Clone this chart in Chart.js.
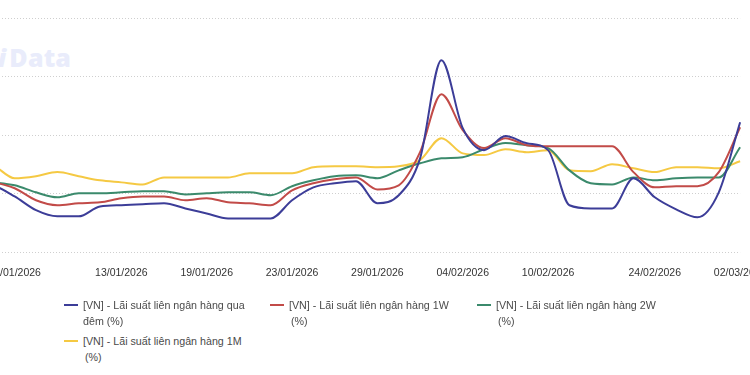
<!DOCTYPE html>
<html>
<head>
<meta charset="utf-8">
<script src="https://cdn.jsdelivr.net/npm/chart.js@4.4.1/dist/chart.umd.min.js"></script>
<style>
  html, body { margin:0; padding:0; width:750px; height:375px; overflow:hidden; background:#fff; font-family:"Liberation Sans", Arial, Helvetica, sans-serif; }
  #wrap { position:absolute; left:-42.4px; top:0; width:822.4px; height:304px; }
  #wm { position:absolute; left:-2px; top:40px; font-family:"Open Sans", "Noto Sans", sans-serif; font-weight:800; font-size:25px; color:#e9ecfb; letter-spacing:0.2px; }
  #wm i { font-style:italic; margin-right:3px; }
  #legend { position:absolute; left:0; top:297px; width:750px; font-size:10.7px; color:#4a4a4a; }
  .item { position:absolute; display:flex; align-items:flex-start; }
  .mark { width:14px; height:2px; margin-top:7px; margin-right:5px; flex:none; }
  .txt { line-height:16px; white-space:nowrap; }
  .txt span { display:block; }
  .txt span.ind { padding-left:2px; }
</style>
</head>
<body>
<div id="wm"><i>i</i>Data</div>
<div id="wrap"><canvas id="c"></canvas></div>
<div id="legend"></div>
<script>
const dates = ["02/01/2026","05/01/2026","06/01/2026","07/01/2026","08/01/2026","09/01/2026","12/01/2026","13/01/2026","14/01/2026","15/01/2026","16/01/2026","19/01/2026","20/01/2026","21/01/2026","22/01/2026","23/01/2026","26/01/2026","27/01/2026","28/01/2026","29/01/2026","30/01/2026","02/02/2026","03/02/2026","04/02/2026","05/02/2026","06/02/2026","09/02/2026","10/02/2026","11/02/2026","12/02/2026","13/02/2026","23/02/2026","24/02/2026","25/02/2026","26/02/2026","27/02/2026","02/03/2026"];
const shownTicks = ["06/01/2026","13/01/2026","19/01/2026","23/01/2026","29/01/2026","04/02/2026","10/02/2026","24/02/2026","02/03/2026"];
const seriesNames = ["[VN] - Lãi suất liên ngân hàng qua đêm (%)","[VN] - Lãi suất liên ngân hàng 1W (%)","[VN] - Lãi suất liên ngân hàng 2W (%)","[VN] - Lãi suất liên ngân hàng 1M (%)"];
const overnight = [4.43,4.29,3.91,3.44,3.23,3.23,3.57,3.61,3.64,3.68,3.50,3.33,3.16,3.16,3.16,3.78,4.22,4.36,4.43,3.68,3.95,5.21,8.56,6.24,5.49,5.97,5.73,5.49,3.61,3.50,3.50,4.53,3.88,3.47,3.20,4.05,6.44];
const week1 = [4.46,4.39,4.19,3.78,3.61,3.68,3.71,3.85,3.91,3.91,3.78,3.85,3.71,3.68,3.61,4.12,4.36,4.50,4.56,4.15,4.29,5.42,7.40,6.17,5.56,5.90,5.66,5.62,5.62,5.62,5.62,4.74,4.22,4.26,4.26,4.74,6.27];
const week2 = [4.46,4.39,4.29,4.05,3.88,4.02,4.02,4.05,4.09,4.09,3.98,4.02,4.05,4.05,3.95,4.26,4.46,4.60,4.63,4.53,4.80,5.04,5.21,5.25,5.52,5.73,5.66,5.56,4.80,4.36,4.32,4.56,4.46,4.53,4.56,4.56,5.59];
const month1 = [5.15,4.97,4.53,4.60,4.74,4.60,4.46,4.39,4.32,4.56,4.56,4.56,4.56,4.70,4.70,4.70,4.91,4.94,4.94,4.91,4.94,5.15,5.90,5.38,5.32,5.52,5.42,5.49,4.80,4.77,5.01,4.87,4.74,4.91,4.91,4.87,5.11];
const colors = ["#3c3d98","#c24b48","#3b8a6c","#f5c943"];
const yTicks = [2,4,6,8,10];

const seriesData = [overnight, week1, week2, month1];
const datasets = seriesData.map((d,i)=>({
  label: seriesNames[i],
  data: d,
  borderColor: colors[i],
  backgroundColor: colors[i],
  borderWidth: 2,
  pointRadius: 0,
  cubicInterpolationMode: 'monotone',
  fill: false
}));

new Chart(document.getElementById('c'), {
  type: 'line',
  data: { labels: dates, datasets: datasets },
  options: {
    responsive: true,
    maintainAspectRatio: false,
    animation: false,
    layout: { padding: { left: 11.6, right: 40, top: 18, bottom: 11 } },
    plugins: { legend: { display: false }, tooltip: { enabled: false } },
    scales: {
      x: {
        offset: false,
        grid: { display: false, drawTicks: false },
        border: { display: false },
        ticks: {
          autoSkip: false, maxRotation: 0, minRotation: 0, padding: 14,
          color: '#333', font: { size: 10.5, family: '"Liberation Sans", Arial, sans-serif' },
          callback: function(v, i) { const l = dates[i]; return shownTicks.includes(l) ? l : ''; }
        }
      },
      y: {
        min: yTicks[0], max: yTicks[yTicks.length-1],
        afterBuildTicks: (s) => { s.ticks = yTicks.map(v=>({value:v})); },
        ticks: { display: false },
        border: { display: false, dash: [1,2] },
        grid: { color: '#cfcfcf', lineWidth: 1, drawTicks: false }
      }
    }
  }
});

// HTML legend
const legendPos = [[64,0],[270,0],[477,0],[64,36]];
const lg = document.getElementById('legend');
seriesNames.forEach((name,i)=>{
  const it = document.createElement('div');
  it.className = 'item';
  it.style.left = legendPos[i][0] + 'px';
  it.style.top = legendPos[i][1] + 'px';
  const mk = document.createElement('div');
  mk.className = 'mark'; mk.style.background = colors[i];
  const tx = document.createElement('div');
  tx.className = 'txt';
  let l1, l2;
  if (i === 0) { l1 = name.replace(' đêm (%)',''); l2 = 'đêm (%)'; }
  else { l1 = name.replace(' (%)',''); l2 = '(%)'; }
  const s1 = document.createElement('span'); s1.textContent = l1;
  const s2 = document.createElement('span'); s2.textContent = l2; if (i>0) s2.className='ind';
  tx.appendChild(s1); tx.appendChild(s2);
  it.appendChild(mk); it.appendChild(tx);
  lg.appendChild(it);
});
</script>
</body>
</html>
